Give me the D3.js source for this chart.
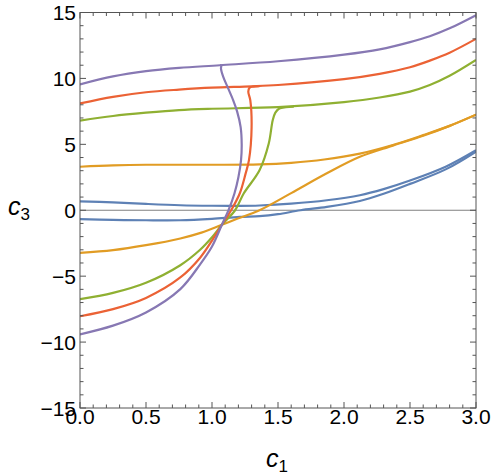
<!DOCTYPE html>
<meta charset="utf-8">
<style>
    * { margin: 0px; }
    body { background: #fff; }
    svg { display: block; }
    text { font-family: "Liberation Sans", Arial, sans-serif; }
</style>
<svg width="491" height="475"></svg>
<script src="https://d3js.org/d3.v7.min.js"></script>
<script>
    // curves, [c1, c3]
    var blueUpper = [[0,0.68],[0.25,0.6],[0.5,0.48],[0.76,0.38],[1.0,0.34],[1.21,0.33],[1.36,0.36],[1.6,0.5],[1.87,0.76],[2.12,1.14],[2.3,1.6],[2.5,2.25],[2.77,3.3],[3,4.55]];
    var blueLower = [[0,-0.68],[0.25,-0.73],[0.5,-0.76],[0.76,-0.76],[1.0,-0.65],[1.21,-0.5],[1.36,-0.45],[1.5,-0.3],[1.67,0],[1.87,0.25],[2.12,0.7],[2.3,1.25],[2.5,2.0],[2.77,3.1],[3,4.45]];
    var orangeUpper = [[0,3.3],[0.25,3.4],[0.5,3.45],[1.0,3.45],[1.36,3.48],[1.6,3.6],[1.85,3.85],[2.12,4.3],[2.37,4.95],[2.6,5.7],[2.8,6.4],[3,7.25]];
    var orangeLower = [[0,-3.24],[0.25,-3.03],[0.5,-2.65],[0.76,-2.14],[0.92,-1.7],[1.075,-1.1],[1.19,-0.65],[1.36,0],[1.6,1.3],[1.87,2.8],[2.12,4.05],[2.37,4.9],[2.6,5.65],[2.8,6.4],[3,7.25]];
    var greenUpper = [[0,6.8],[0.25,7.15],[0.5,7.4],[0.75,7.6],[1.0,7.7],[1.5,7.82],[2.0,8.2],[2.27,8.55],[2.5,9.0],[2.65,9.5],[2.8,10.2],[3,11.4]];
    var greenLower = [[0,-6.75],[0.25,-6.27],[0.5,-5.5],[0.76,-4.17],[0.91,-3.0],[1.0,-2.05],[1.075,-1.1],[1.175,0],[1.24,1.27],[1.36,3.03],[1.43,5.06],[1.46,6.83],[1.48,7.4],[1.51,7.72],[1.56,7.82],[1.62,7.85]];
    var redUpper = [[0,8.1],[0.25,8.6],[0.5,8.95],[0.75,9.15],[1.0,9.3],[1.3,9.4],[1.5,9.5],[2.0,9.95],[2.27,10.35],[2.5,10.85],[2.65,11.35],[2.8,11.95],[3,13.0]];
    var redLower = [[0,-8.04],[0.25,-7.5],[0.5,-6.65],[0.76,-5.1],[0.91,-3.6],[1.0,-2.3],[1.075,-1.1],[1.145,0],[1.21,1.27],[1.255,2.8],[1.28,3.8],[1.30,6.3],[1.29,8.35],[1.275,9.0],[1.285,9.3],[1.31,9.38],[1.36,9.42]];
    var purpleUpper = [[0,9.55],[0.25,10.15],[0.5,10.55],[0.75,10.8],[1.06,11.0],[1.5,11.3],[2.0,11.8],[2.27,12.2],[2.5,12.75],[2.65,13.2],[2.8,13.8],[3,14.8]];
    var purpleLower = [[0,-9.41],[0.25,-8.75],[0.5,-7.75],[0.76,-5.98],[0.91,-4.1],[1.0,-2.75],[1.075,-1.1],[1.125,0],[1.17,1.27],[1.2,2.5],[1.22,3.8],[1.225,5],[1.217,6.3],[1.19,7.5],[1.16,8.35],[1.12,9.3],[1.086,10.1],[1.068,10.75],[1.07,10.98],[1.06,11.02]];

    var series = [
        {color: "#5E81B5", pts: blueUpper}, {color: "#5E81B5", pts: blueLower},
        {color: "#E19C24", pts: orangeUpper}, {color: "#E19C24", pts: orangeLower},
        {color: "#8FB032", pts: greenUpper}, {color: "#8FB032", pts: greenLower},
        {color: "#EB6235", pts: redUpper}, {color: "#EB6235", pts: redLower},
        {color: "#8778B3", pts: purpleUpper}, {color: "#8778B3", pts: purpleLower}
    ];

    var xTicks = [0, 0.5, 1, 1.5, 2, 2.5, 3],
        xLabels = ["0.0", "0.5", "1.0", "1.5", "2.0", "2.5", "3.0"],
        yTicks = [-15, -10, -5, 0, 5, 10, 15],
        yLabels = ["\u221215", "\u221210", "\u22125", "0", "5", "10", "15"];

    var svg = d3.select("svg");
    var pLeft = 80, pRight = 476, pTop = 12.5, pBottom = 408;

    var x = d3.scaleLinear().domain([0, 3]).range([pLeft, pRight]);
    var y = d3.scaleLinear().domain([-15, 15]).range([pBottom, pTop]);

    var plot = svg.append("g");
    plot.append("clipPath").attr("id", "clip")
        .append("rect").attr("x", pLeft).attr("y", pTop).attr("width", pRight - pLeft).attr("height", pBottom - pTop);

    // zero axis line
    plot.append("line")
        .attr("x1", pLeft).attr("x2", pRight)
        .attr("y1", y(0)).attr("y2", y(0))
        .attr("stroke", "#808080").attr("stroke-width", 1.2);

    var line = d3.line()
        .x(function(d) { return x(d[0]); })
        .y(function(d) { return y(d[1]); })
        .curve(d3.curveCatmullRom.alpha(0.5));

    plot.append("g").attr("clip-path", "url(#clip)")
        .selectAll("path")
        .data(series)
        .enter().append("path")
        .attr("d", function(d) { return line(d.pts); })
        .attr("fill", "none")
        .attr("stroke", function(d) { return d.color; })
        .attr("stroke-width", 2.2)
        .attr("stroke-linejoin", "round");

    // frame with inward ticks on all sides
    var frame = svg.append("g").attr("stroke", "#555").attr("stroke-width", 1);
    frame.append("rect")
        .attr("x", pLeft).attr("y", pTop).attr("width", pRight - pLeft).attr("height", pBottom - pTop)
        .attr("fill", "none");

    var xMinor = d3.range(0, 31).map(function(i) { return i / 10; });
    var yMinor = d3.range(-15, 16);

    xMinor.forEach(function(v) {
        var major = Math.abs(v * 2 - Math.round(v * 2)) < 1e-6;
        var len = major ? 6 : 3.5;
        frame.append("line").attr("x1", x(v)).attr("x2", x(v)).attr("y1", pBottom).attr("y2", pBottom - len);
        frame.append("line").attr("x1", x(v)).attr("x2", x(v)).attr("y1", pTop).attr("y2", pTop + len);
    });
    yMinor.forEach(function(v) {
        var len = v % 5 === 0 ? 6 : 3.5;
        frame.append("line").attr("y1", y(v)).attr("y2", y(v)).attr("x1", pLeft).attr("x2", pLeft + len);
        frame.append("line").attr("y1", y(v)).attr("y2", y(v)).attr("x1", pRight).attr("x2", pRight - len);
    });

    // tick labels
    svg.append("g").selectAll("text")
        .data(xTicks)
        .enter().append("text")
        .attr("x", function(d) { return x(d); })
        .attr("y", 423.5)
        .attr("text-anchor", "middle")
        .attr("font-size", 21)
        .text(function(d, i) { return xLabels[i]; });

    svg.append("g").selectAll("text")
        .data(yTicks)
        .enter().append("text")
        .attr("x", 76)
        .attr("y", function(d) { return y(d) + 7.5; })
        .attr("text-anchor", "end")
        .attr("font-size", 21)
        .text(function(d, i) { return yLabels[i]; });

    // axis labels
    var xl = svg.append("text").attr("x", 266).attr("y", 467).attr("font-size", 25);
    xl.append("tspan").attr("font-style", "italic").text("c");
    xl.append("tspan").attr("font-size", 17).attr("dy", 5).text("1");

    var yl = svg.append("text").attr("x", 8).attr("y", 215).attr("font-size", 25);
    yl.append("tspan").attr("font-style", "italic").text("c");
    yl.append("tspan").attr("font-size", 17).attr("dy", 5).text("3");
</script>
